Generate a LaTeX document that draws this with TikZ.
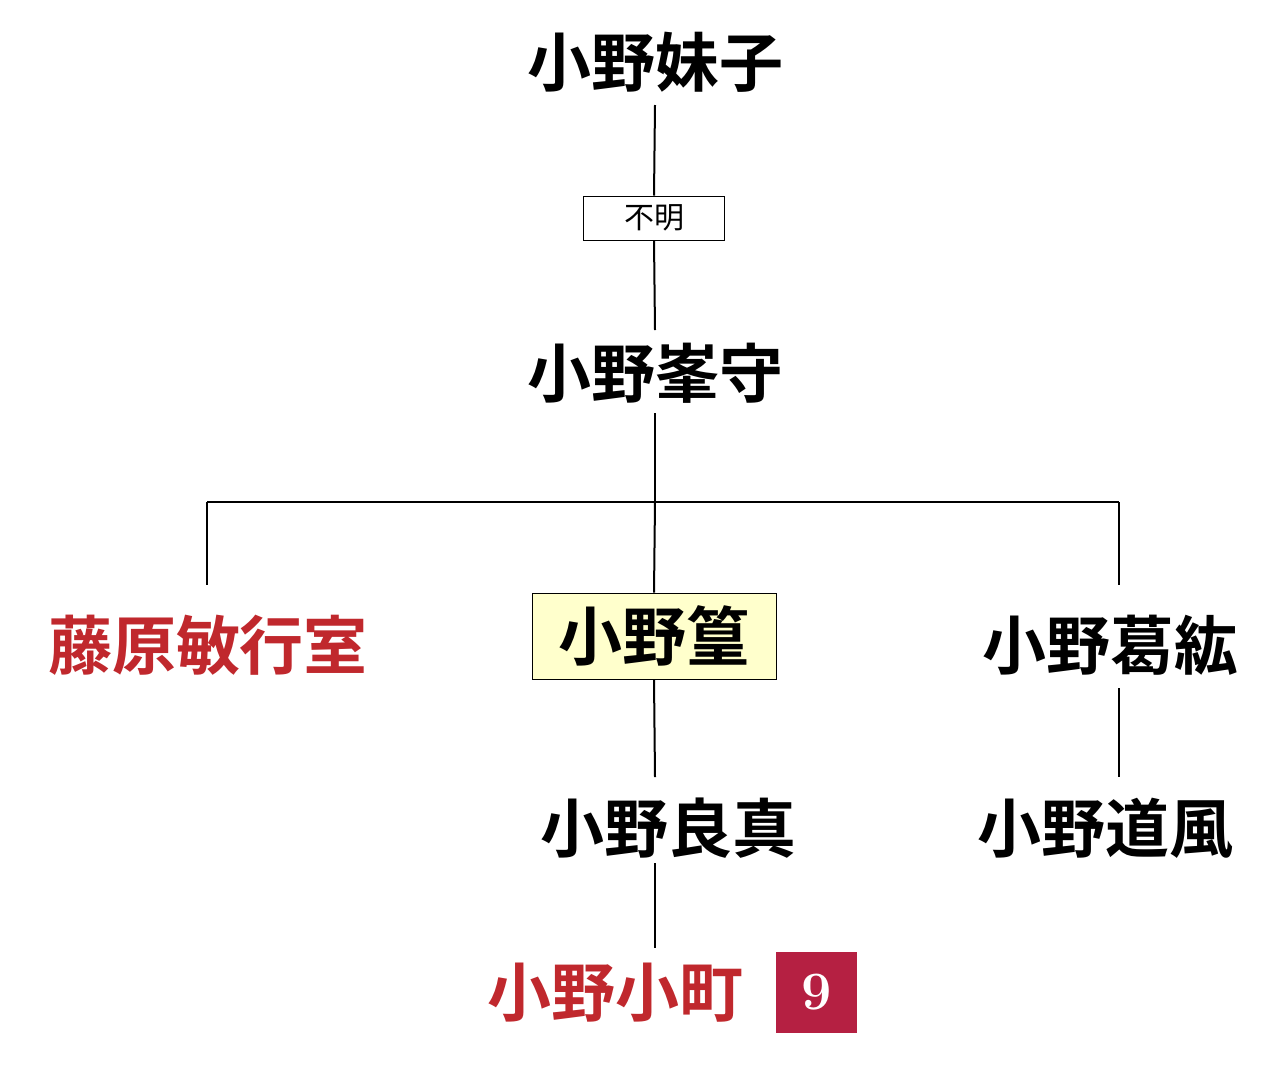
\documentclass[tikz,border=0pt]{standalone}
\usepackage{fontspec}
\newfontfamily\cjk{Noto Sans CJK JP}[BoldFont={Noto Sans CJK JP Bold}]
\definecolor{myred}{HTML}{C0282D}
\definecolor{badge}{HTML}{B52042}
\definecolor{pale}{HTML}{FFFFCC}
\begin{document}
\begin{tikzpicture}[x=1pt,y=-1pt,
  nm/.style={font=\cjk\bfseries\fontsize{64}{64}\selectfont,inner sep=0pt},
  ln/.style={line width=2pt}]
\useasboundingbox (0,0) rectangle (1280,1069);
\node[nm] (a) at (655,62) {小野妹子};
\node[draw,line width=1pt,minimum width=141,minimum height=44,inner sep=0pt,font=\cjk\fontsize{30}{30}\selectfont] (u) at (654,218) {不明};
\node[nm] (b) at (655,373) {小野峯守};
\node[nm,text=myred] (c) at (208,645) {藤原敏行室};
\node[nm,draw,line width=1pt,fill=pale,minimum width=244,minimum height=86] (d) at (654,636) {小野篁};
\node[nm] (e) at (1110,645) {小野葛紘};
\node[nm] (f) at (668,828) {小野良真};
\node[nm] (g) at (1105,828) {小野道風};
\node[nm,text=myred] (h) at (615,993) {小野小町};
\node[fill=badge,minimum size=81,inner sep=0pt,text=white,font=\fontsize{54}{54}\selectfont\bfseries] (n) at (816.5,992.5) {9};
\coordinate (j) at (655,502);
\coordinate (jl) at (207,502);
\coordinate (jr) at (1119,502);
\draw[ln] (655,105) -- (u.north);
\draw[ln] (u.south) -- (655,330);
\draw[ln] (655,413) -- (j);
\draw[ln] (jl) -- (jr);
\draw[ln] (jl) -- (207,585);
\draw[ln] (j) -- (d.north);
\draw[ln] (jr) -- (1119,585);
\draw[ln] (1119,688) -- (1119,777);
\draw[ln] (d.south) -- (655,777);
\draw[ln] (655,863) -- (655,948);
\end{tikzpicture}
\end{document}
